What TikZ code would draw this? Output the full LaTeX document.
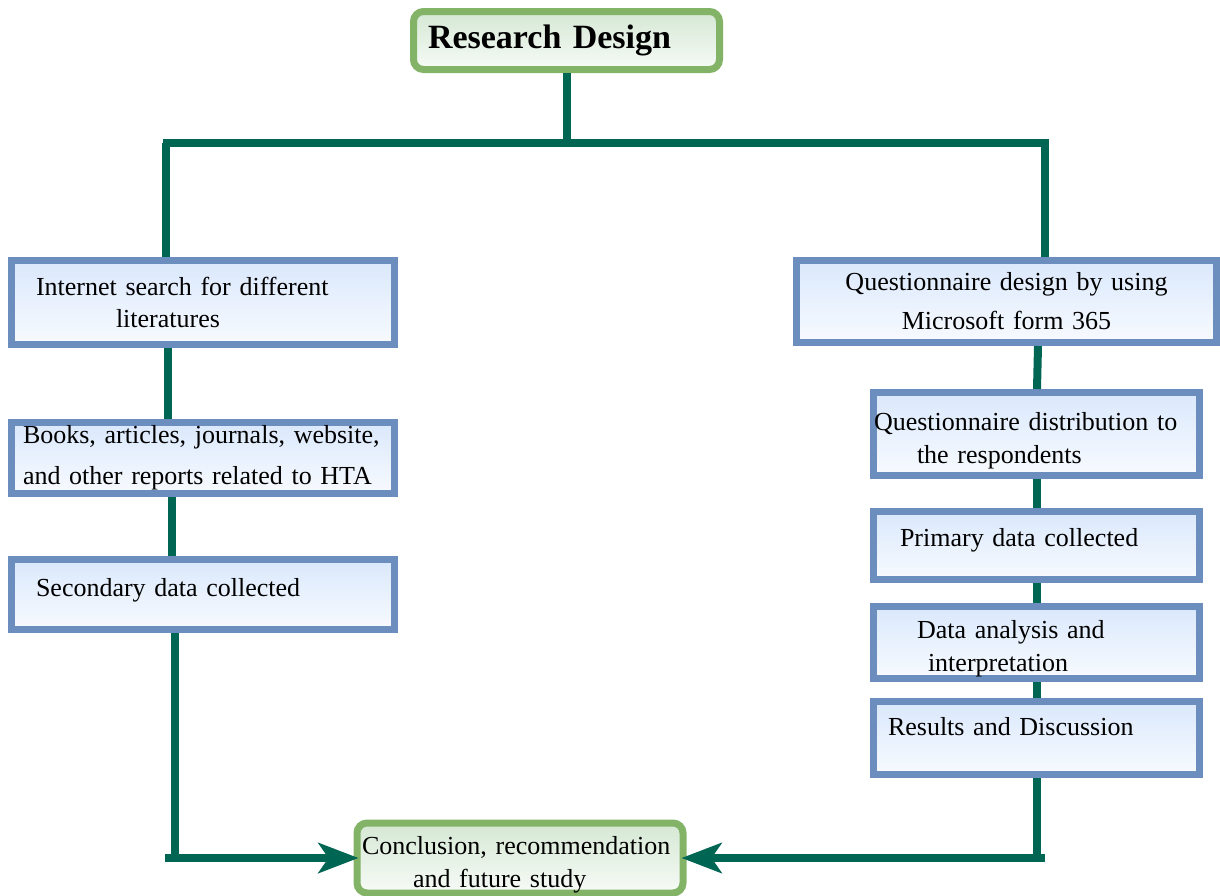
\documentclass[tikz,border=0pt]{standalone}
\usepackage{fontspec}
\setmainfont{Liberation Serif}
\usepackage{tikz}
\usetikzlibrary{positioning}
\usetikzlibrary{arrows.meta}

\definecolor{linkgreen}{RGB}{0,102,84}
\definecolor{boxblue}{RGB}{108,142,191}
\definecolor{fillblue}{RGB}{218,232,252}
\definecolor{boxgreen}{RGB}{130,179,102}
\definecolor{fillgreen}{RGB}{213,232,212}

\begin{document}
\begin{tikzpicture}[x=0.5pt, y=-0.5pt,
    link/.style={draw=linkgreen, line width=4pt},
    intoend/.style={-{Stealth[length=20pt, width=15pt, inset=5pt]}},
    stagebox/.style={draw=boxblue, line width=3.5pt, top color=fillblue, bottom color=fillblue!20,
        inner sep=0pt, align=left, text width=#1, minimum width=#1},
    endbox/.style={draw=boxgreen, line width=3.5pt, rounded corners=5pt, top color=fillgreen,
        bottom color=fillgreen!20, inner sep=0pt, align=left, text width=#1, minimum width=#1},
    font=\fontsize{13}{16.5}\selectfont]

  \useasboundingbox (0,0) rectangle (1220,895);

	%top box
  \node[endbox=153pt, minimum height=29pt, font=\fontsize{17}{20}\selectfont\bfseries] (design) at (566.5,40.5) {\hspace*{7.25pt}Research Design};

	%left column
  \node[stagebox=191.5pt, minimum height=42pt] (search) at (203,302.5) {\hspace*{12.25pt}Internet search for different\\[-0.5pt]\hspace*{52.25pt}literatures};
  \node[stagebox=191.5pt, minimum height=35.5pt] (books) at (203,458) {\hspace*{5.75pt}Books, articles, journals, website,\\[4pt]\hspace*{5.75pt}and other reports related to HTA};
  \node[stagebox=191.5pt, minimum height=35pt, text depth=7.5pt] (secondary) at (203,594.5) {\hspace*{12.25pt}Secondary data collected};

	%right column
  \node[stagebox=210pt, minimum height=41pt, align=center] (qdesign) at (1006.5,301.5) {Questionnaire design by using\\[3pt]Microsoft form 365};

    \foreach \y/\h/\dep/\name/\txt in {434/41.5/13pt/qdist/{\hspace*{0.25pt}Questionnaire distribution to\\\hspace*{21.75pt}the respondents},
                                        545.5/34/8pt/primary/{\hspace*{13.25pt}Primary data collected},
                                        642.5/36/13pt/analysis/{\hspace*{21.75pt}Data analysis and\\\hspace*{27.25pt}interpretation},
                                        738/36.5/12pt/results/{\hspace*{7.25pt}Results and Discussion}}{
        \node[stagebox=163pt, minimum height=\h pt, text depth=\dep] (\name) at (1036.5,\y) {\txt};
    }

	%bottom box
  \node[endbox=163pt, minimum height=35pt, text height=15.9pt, text depth=19.1pt] (conclusion) at (520,858) {\hspace*{2.5pt}Conclusion, recommendation\\\hspace*{28pt}and future study};

	%connectors
  \coordinate (hub) at (568,143);
  \coordinate (hubL) at (163,143);
  \coordinate (hubR) at (1049,143);
  \coordinate (dropL) at (166,143);
  \coordinate (dropR) at (1045,143);
  \coordinate (baseL) at (165,858);
  \coordinate (baseR) at (1045,858);

  \draw[link] (design.south) -- (design.south |- hub);
  \draw[link] (hubL) -- (hubR);
  \draw[link] (dropL) -- (dropL |- search.north);
  \draw[link] (dropR) -- (dropR |- qdesign.north);

  \draw[link] ([xshift=-17.5pt]search.south) -- ([xshift=-17.5pt]books.north);
  \draw[link] ([xshift=-15.5pt]books.south) -- ([xshift=-15.5pt]secondary.north);
  \draw[link] ([xshift=-14pt]secondary.south) -- ([xshift=-14pt]secondary.south |- baseL);
  \draw[link, intoend] (baseL) -- ([xshift=2.5pt]conclusion.west);

  \draw[link] ([xshift=15.75pt]qdesign.south) -- ([xshift=0.25pt]qdist.north);
    \foreach \a/\b in {qdist/primary, primary/analysis, analysis/results}{
        \draw[link] (\a.south) -- (\b.north);
    }
  \draw[link] (results.south) -- (results.south |- baseR);
  \draw[link, intoend] (baseR) -- ([xshift=-2.5pt]conclusion.east);

\end{tikzpicture}
\end{document}
